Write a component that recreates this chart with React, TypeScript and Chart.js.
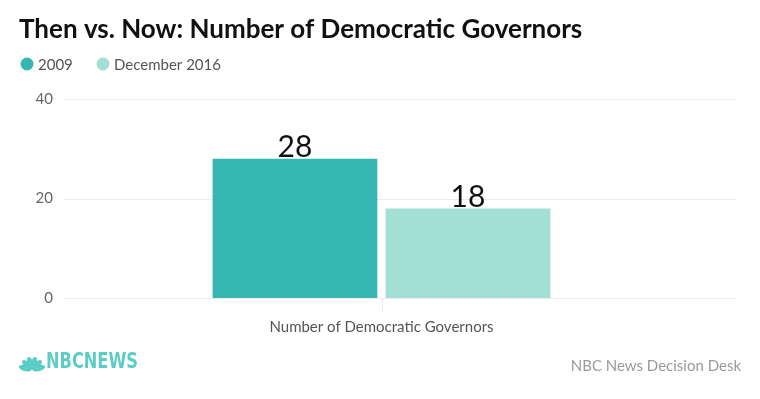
import React, { useEffect, useRef } from "react";
import { Chart, registerables } from "chart.js";

Chart.register(...registerables);

const categories = ["Number of Democratic Governors"];
const seriesNames = ["2009", "December 2016"];
const values2009 = [28];
const values2016 = [18];
const yTicks = [0, 20, 40];
const colors = ["#36b7b4", "#a3dfd5"];

const TITLE = "Then vs. Now: Number of Democratic Governors";
const SOURCE = "NBC News Decision Desk";
const FONT = "Lato, 'Open Sans', sans-serif";

export default function App() {
  const ref = useRef<HTMLCanvasElement>(null);

  useEffect(() => {
    if (!ref.current) return;
    const decor = {
      id: "decor",
      beforeDatasetsDraw(chart: any) {
        const ctx = chart.ctx;
        const y = chart.scales.y;
        ctx.save();
        ctx.strokeStyle = "#ececec";
        ctx.lineWidth = 1;
        yTicks.forEach((t) => {
          const py = Math.round(y.getPixelForValue(t)) + 0.5;
          ctx.beginPath();
          ctx.moveTo(64, py);
          ctx.lineTo(736, py);
          ctx.stroke();
        });
        const x = chart.scales.x;
        const px = Math.round(x.getPixelForValue(0)) + 0.5;
        const bottom = chart.chartArea.bottom;
        ctx.beginPath();
        ctx.moveTo(px, bottom);
        ctx.lineTo(px, bottom + 14);
        ctx.stroke();
        ctx.restore();
      },
      afterDatasetsDraw(chart: any) {
        const ctx = chart.ctx;
        ctx.save();
        ctx.fillStyle = "#111";
        ctx.font = `30px ${FONT}`;
        ctx.textAlign = "center";
        ctx.textBaseline = "bottom";
        chart.data.datasets.forEach((ds: any, i: number) => {
          const meta = chart.getDatasetMeta(i);
          meta.data.forEach((el: any, j: number) => {
            ctx.fillText(String(ds.data[j]), el.x, el.y + 4);
          });
        });
        ctx.restore();
      },
      afterDraw(chart: any) {
        const ctx = chart.ctx;
        ctx.save();
        ctx.fillStyle = "#111";
        ctx.font = `bold 26px ${FONT}`;
        ctx.textAlign = "left";
        ctx.textBaseline = "middle";
        ctx.fillText(TITLE, 19, 30);
        ctx.font = `15px ${FONT}`;
        const starts = [20, 96];
        chart.data.datasets.forEach((ds: any, i: number) => {
          const lx = starts[i];
          ctx.fillStyle = ds.backgroundColor;
          ctx.beginPath();
          ctx.arc(lx + 7, 64, 6.5, 0, Math.PI * 2);
          ctx.fill();
          ctx.fillStyle = "#555";
          ctx.fillText(ds.label, lx + 18, 65);
        });
        ctx.fillStyle = "#999";
        ctx.font = `15px ${FONT}`;
        ctx.textAlign = "right";
        ctx.fillText(SOURCE, 741, 366);
        ctx.fillStyle = "#5ccdc4";
        const cx = 32, cy = 370;
        for (let k = 0; k < 6; k++) {
          const a = Math.PI + (k + 0.5) * (Math.PI / 6);
          ctx.beginPath();
          ctx.ellipse(cx + Math.cos(a) * 7, cy + Math.sin(a) * 7, 6.5, 3, a, 0, Math.PI * 2);
          ctx.fill();
        }
        ctx.font = `bold 21px 'Liberation Sans Narrow', 'DejaVu Sans Condensed', sans-serif`;
        ctx.textAlign = "left";
        ctx.fillText("NBCNEWS", 46, 363, 92);
        ctx.restore();
      },
    };

    const chart = new Chart(ref.current, {
      type: "bar",
      data: {
        labels: categories,
        datasets: [
          { label: seriesNames[0], data: values2009, backgroundColor: colors[0] },
          { label: seriesNames[1], data: values2016, backgroundColor: colors[1] },
        ],
      },
      options: {
        animation: false,
        responsive: false,
        events: [],
        layout: { padding: { top: 99, left: 0, right: 61, bottom: 51 } },
        datasets: {
          bar: { categoryPercentage: 0.545, barPercentage: 0.952 },
        } as any,
        plugins: {
          legend: { display: false },
          title: { display: false },
          tooltip: { enabled: false },
        },
        scales: {
          x: {
            grid: { display: false, drawTicks: false },
            border: { display: false },
            ticks: { color: "#555", font: { family: FONT, size: 15 }, padding: 20 },
            afterFit: (s: any) => {
              s.height = 50;
            },
          },
          y: {
            min: 0,
            max: 40,
            afterBuildTicks: (s: any) => {
              s.ticks = yTicks.map((v) => ({ value: v }));
            },
            grid: { display: false, drawTicks: false },
            border: { display: false },
            ticks: { color: "#666", font: { family: FONT, size: 15 }, padding: 11 },
            afterFit: (s: any) => {
              s.width = 64;
            },
          },
        },
      },
      plugins: [decor],
    });
    return () => chart.destroy();
  }, []);

  return (
    <div style={{ position: "fixed", left: 0, top: 0, width: 760, height: 399, background: "#fff" }}>
      <canvas ref={ref} width={760} height={399} style={{ width: 760, height: 399 }} />
    </div>
  );
}
